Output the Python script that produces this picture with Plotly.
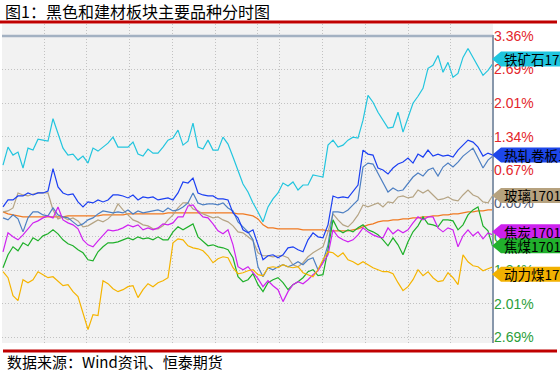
import plotly.graph_objects as go

# ---------------- data (percent change, intraday) ----------------
time_idx = list(range(99))

iron_ore = [0.77, 1.13, 0.97, 1.03, 0.71, 1.11, 1.07, 1.29, 1.27, 1.25, 1.70, 1.41, 1.11, 0.97, 0.99, 0.87, 0.95, 0.81, 1.11, 1.05,
            1.13, 1.21, 1.33, 1.13, 1.13, 1.13, 1.23, 0.99, 0.95, 1.09, 1.01, 1.01, 1.13, 1.27, 1.31, 1.47, 1.17, 1.25, 1.61, 1.13,
            1.09, 1.27, 1.07, 1.07, 1.33, 1.19, 0.93, 0.67, 0.39, 0.23, 0.01, -0.17, -0.37, -0.07, 0.09, 0.21, 0.41, 0.35, 0.43, 0.27,
            0.37, 0.37, 0.57, 0.55, 0.53, 1.17, 1.27, 1.13, 1.17, 1.27, 1.33, 1.31, 1.67, 2.17, 2.03, 1.83, 1.67, 1.51, 1.53, 1.83,
            1.43, 1.71, 2.01, 2.15, 2.31, 2.71, 2.77, 2.97, 2.63, 2.83, 2.53, 2.61, 2.93, 3.11, 2.93, 2.77, 2.57, 2.67, 2.81]

hot_coil = [-0.07, 0.07, 0.07, 0.15, 0.15, 0.21, 0.17, 0.21, 0.21, 0.25, 0.70, 0.33, 0.21, 0.17, 0.19, 0.03, -0.07, 0.03, 0.01, 0.07,
            0.03, 0.07, 0.17, 0.17, 0.15, 0.11, 0.17, 0.07, 0.13, 0.11, 0.13, 0.07, 0.09, 0.11, 0.07, 0.21, 0.43, 0.41, 0.51, 0.21,
            0.17, 0.15, 0.15, 0.09, 0.09, 0.07, -0.19, -0.29, -0.53, -0.59, -0.53, -0.85, -1.13, -1.05, -1.03, -1.09, -1.03, -0.89, -0.87, -0.93,
            -0.97, -0.73, -0.59, -0.67, -0.69, -0.43, 0.15, 0.11, 0.13, 0.11, 0.23, 0.37, 1.07, 0.99, 0.97, 0.71, 0.67, 0.59, 0.71, 0.79,
            0.83, 0.91, 0.81, 0.99, 0.93, 1.07, 0.95, 0.99, 0.95, 0.97, 0.93, 1.07, 1.17, 1.27, 1.23, 1.13, 0.95, 1.01, 0.97]

rebar = [-0.29, -0.33, -0.23, -0.31, -0.57, -0.29, -0.17, -0.17, -0.23, -0.25, -0.09, -0.23, -0.27, -0.29, -0.37, -0.45, -0.41, -0.33, -0.29, -0.21,
         -0.15, -0.17, -0.19, -0.17, -0.19, -0.13, -0.21, -0.15, -0.19, -0.17, -0.15, -0.13, -0.17, -0.09, -0.15, -0.13, -0.07, 0.01, 0.21, 0.01,
         -0.03, -0.01, -0.01, -0.03, 0.01, -0.09, -0.15, -0.37, -0.47, -0.57, -0.73, -1.27, -1.47, -1.29, -1.33, -1.27, -1.23, -1.27, -1.23, -1.17,
         -1.23, -1.13, -1.09, -1.33, -1.17, -0.83, -0.17, -0.17, -0.19, -0.13, -0.03, 0.07, 0.73, 0.81, 0.79, 0.61, 0.41, 0.23, 0.31, 0.25,
         0.27, 0.41, 0.53, 0.61, 0.55, 0.67, 0.71, 0.55, 0.73, 0.81, 0.73, 0.83, 0.95, 1.03, 1.11, 0.91, 0.71, 0.87, 0.95]

glass = [-0.17, -0.15, -0.09, 0.21, 0.17, 0.15, 0.19, 0.21, 0.21, 0.21, -0.13, -0.31, -0.27, -0.33, -0.29, -0.35, -0.47, -0.45, -0.39, -0.33,
         -0.37, -0.31, -0.21, -0.01, -0.13, -0.23, -0.33, -0.37, -0.43, -0.45, -0.51, -0.51, -0.45, -0.33, -0.23, -0.09, 0.01, 0.01, -0.11, -0.15,
         -0.21, -0.25, -0.29, -0.27, -0.33, -0.37, -0.45, -0.57, -0.59, -0.67, -0.75, -0.99, -1.05, -1.05, -1.07, -1.05, -1.05, -1.09, -1.23, -1.27,
         -1.19, -1.07, -0.99, -0.93, -0.87, -0.57, -0.21, -0.33, -0.43, -0.47, -0.37, -0.23, -0.03, -0.07, -0.03, 0.01, -0.07, 0.03, 0.01, 0.13,
         0.15, 0.11, 0.13, 0.27, 0.21, 0.27, 0.17, 0.07, 0.09, 0.13, 0.07, 0.05, 0.17, 0.27, 0.17, 0.13, 0.03, 0.01, 0.17]

avg_line = [-0.17, -0.21, -0.23, -0.25, -0.27, -0.27, -0.27, -0.27, -0.27, -0.27, -0.27, -0.27, -0.27, -0.25, -0.25, -0.25, -0.25, -0.25, -0.25, -0.25,
            -0.23, -0.23, -0.23, -0.23, -0.23, -0.21, -0.21, -0.21, -0.21, -0.21, -0.21, -0.21, -0.21, -0.19, -0.19, -0.19, -0.19, -0.19, -0.19, -0.19,
            -0.19, -0.19, -0.19, -0.19, -0.19, -0.19, -0.19, -0.21, -0.21, -0.23, -0.25, -0.31, -0.43, -0.49, -0.49, -0.51, -0.51, -0.51, -0.51, -0.51,
            -0.53, -0.53, -0.53, -0.53, -0.53, -0.55, -0.55, -0.55, -0.55, -0.55, -0.53, -0.51, -0.47, -0.43, -0.41, -0.37, -0.35, -0.35, -0.33, -0.33,
            -0.31, -0.31, -0.29, -0.29, -0.27, -0.27, -0.25, -0.25, -0.23, -0.23, -0.21, -0.21, -0.19, -0.17, -0.17, -0.15, -0.15, -0.13, -0.13]

coke = [-0.97, -0.59, -0.67, -0.73, -0.63, -0.51, -0.39, -0.35, -0.29, -0.25, -0.29, -0.07, -0.33, -0.39, -0.43, -0.51, -0.73, -0.83, -0.87, -0.75,
        -0.63, -0.53, -0.55, -0.53, -0.49, -0.43, -0.47, -0.43, -0.53, -0.49, -0.53, -0.49, -0.41, -0.43, -0.39, -0.27, -0.27, -0.05, -0.03, -0.17,
        -0.27, -0.29, -0.41, -0.55, -0.61, -0.53, -0.83, -1.27, -1.33, -1.27, -1.39, -1.51, -1.67, -1.55, -1.65, -1.73, -1.97, -1.77, -1.63, -1.57,
        -1.61, -1.53, -1.43, -1.35, -1.19, -1.03, -0.53, -0.67, -0.73, -0.77, -0.73, -0.63, -0.49, -0.57, -0.63, -0.67, -0.69, -0.49, -0.61, -0.53,
        -0.59, -0.53, -0.39, -0.27, -0.33, -0.27, -0.27, -0.49, -0.57, -0.49, -0.53, -0.87, -0.65, -0.53, -0.65, -0.57, -0.71, -0.59, -0.63]

coking_coal = [-1.29, -1.03, -0.87, -0.95, -0.79, -0.85, -0.69, -0.75, -0.65, -0.61, -0.53, -0.61, -0.73, -0.81, -0.85, -0.93, -0.99, -1.13, -1.15, -0.97,
               -0.87, -0.79, -0.79, -0.77, -0.73, -0.69, -0.73, -0.67, -0.71, -0.69, -0.73, -0.67, -0.73, -0.73, -0.57, -0.47, -0.53, -0.47, -0.41, -0.67,
               -0.77, -0.85, -0.83, -0.87, -0.89, -0.93, -1.09, -1.47, -1.57, -1.53, -1.41, -1.63, -1.77, -1.59, -1.53, -1.49, -1.59, -1.73, -1.63, -1.57,
               -1.49, -1.37, -1.33, -1.45, -1.43, -0.93, -0.33, -0.53, -0.59, -0.53, -0.57, -0.49, -0.43, -0.53, -0.57, -0.63, -0.73, -0.85, -0.69, -0.83,
               -1.03, -0.77, -0.57, -0.45, -0.27, -0.41, -0.43, -0.47, -0.33, -0.33, -0.35, -0.53, -0.43, -0.23, -0.13, -0.07, -0.45, -0.55, -0.89]

thermal_coal = [-1.37, -1.49, -1.85, -1.95, -1.53, -1.59, -1.53, -1.37, -1.43, -1.49, -1.47, -1.57, -1.65, -1.63, -1.77, -1.87, -2.19, -2.53, -2.23, -2.25,
                -1.55, -1.61, -1.71, -1.77, -1.73, -1.67, -1.65, -1.89, -1.73, -1.61, -1.67, -1.59, -1.55, -1.49, -0.79, -0.71, -0.73, -0.85, -0.89, -0.91,
                -0.95, -1.05, -1.19, -1.11, -1.07, -1.09, -1.29, -1.41, -1.39, -1.35, -1.33, -1.43, -1.45, -1.29, -1.27, -1.29, -1.23, -1.27, -1.29, -1.27,
                -1.39, -1.43, -1.47, -1.33, -1.13, -0.97, -0.99, -1.07, -0.99, -1.13, -1.17, -1.23, -1.17, -1.23, -1.29, -1.33, -1.37, -1.37, -1.41, -1.59,
                -1.75, -1.67, -1.53, -1.33, -1.45, -1.37, -1.49, -1.57, -1.55, -1.39, -1.49, -1.63, -1.03, -1.17, -1.25, -1.27, -1.35, -1.31, -1.27]

y_tick_values = [3.36, 2.69, 2.01, 1.34, 0.67, 0.00, -0.67, -1.34, -2.01, -2.69]

tag_names = ["铁矿石1701", "热轧卷板1701", "玻璃1701", "焦炭1701", "焦煤1701", "动力煤1701"]
tag_levels = [2.90, 0.97, 0.16, -0.57, -0.85, -1.42]

title_text = "图1：黑色和建材板块主要品种分时图"
source_text = "数据来源：Wind资讯、恒泰期货"

# ---------------- layout geometry (pixels) ----------------
W, H = 560, 371
PL, PR, PT, PB = 2, 493, 24, 343
Y_MIN, Y_MAX = -2.80, 3.60
PX_PER_UNIT = (PB - PT) / (Y_MAX - Y_MIN)


def paper_x(px):
    return (px - PL) / (PR - PL)


def paper_y(py):
    return (PB - py) / (PB - PT)


# x positions of the time grid (index units: px = 3 + 5*i)
grid_px = [44, 86, 129, 172, 215, 257, 279, 322, 365, 408, 450]
grid_x = [(p - 3) / 5 for p in grid_px]

CJK = "Noto Sans CJK SC"

series = [
    (avg_line, "#f07a22"),
    (glass, "#b5a484"),
    (rebar, "#4d7fc2"),
    (hot_coil, "#1b3ff2"),
    (coking_coal, "#1fb02a"),
    (coke, "#cf22f0"),
    (thermal_coal, "#f5b400"),
    (iron_ore, "#22c5de"),
]

fig = go.Figure()
for vals, col in series:
    fig.add_trace(go.Scatter(x=time_idx, y=vals, mode="lines",
                             line=dict(color=col, width=1.2), hoverinfo="skip",
                             showlegend=False))


def tick_label(v):
    if v > 0:
        c = "#e3262b"
    elif v < 0:
        c = "#2c9e3a"
    else:
        c = "#56617a"
    return '<span style="color:%s">%.2f%%</span>' % (c, abs(v))


fig.update_layout(
    width=W, height=H, autosize=False,
    margin=dict(l=PL, r=W - PR, t=PT, b=H - PB, pad=0),
    paper_bgcolor="white", plot_bgcolor="#f2f2f2",
    showlegend=False,
    xaxis=dict(range=[-0.2, 98], tickvals=grid_x, showticklabels=False, ticks="",
               showgrid=True, gridcolor="#c2c2c2", griddash="1px,2px", gridwidth=1,
               zeroline=False, showline=False, fixedrange=True),
    yaxis=dict(range=[Y_MIN, Y_MAX], side="right", tickvals=y_tick_values,
               ticktext=[tick_label(v) for v in y_tick_values], ticks="",
               tickfont=dict(family="Liberation Sans, Arial", size=14),
               showgrid=True, gridcolor="#c2c2c2", griddash="1px,2px", gridwidth=1,
               zeroline=False, showline=False, fixedrange=True),
)

shapes = []
# header bar along the top level and right frame line
shapes.append(dict(type="line", xref="paper", yref="y", x0=0, x1=1, y0=3.36, y1=3.36,
                   line=dict(color="#a3b1c2", width=2.5), layer="above"))
shapes.append(dict(type="line", xref="paper", yref="paper", x0=paper_x(493), x1=paper_x(493),
                   y0=0, y1=paper_y(35), line=dict(color="#8797ab", width=2), layer="above"))
# red rules
shapes.append(dict(type="line", xref="paper", yref="paper", x0=paper_x(0), x1=paper_x(557),
                   y0=paper_y(22), y1=paper_y(22), line=dict(color="#c00000", width=3)))
shapes.append(dict(type="line", xref="paper", yref="paper", x0=paper_x(3), x1=paper_x(557),
                   y0=paper_y(351), y1=paper_y(351), line=dict(color="#c00000", width=3)))

tag_colors = ["#1fc6df", "#1d47ea", "#b6a27f", "#cd22ee", "#21b12c", "#f2b100"]
half = 7.5 / PX_PER_UNIT
tip_x, box_x, end_x = paper_x(492), paper_x(501), paper_x(620)
annotations = []
for name, lvl, col in zip(tag_names, tag_levels, tag_colors):
    path = "M %f,%f L %f,%f L %f,%f L %f,%f L %f,%f Z" % (
        tip_x, lvl, box_x, lvl + half, end_x, lvl + half, end_x, lvl - half, box_x, lvl - half)
    shapes.append(dict(type="path", xref="paper", yref="y", path=path,
                       fillcolor=col, line=dict(width=0), layer="above"))
    annotations.append(dict(xref="paper", yref="y", x=paper_x(502), y=lvl, text=name,
                            showarrow=False, xanchor="left", yanchor="middle",
                            font=dict(family=CJK, size=13.5, color="#000000")))

annotations.append(dict(xref="paper", yref="paper", x=paper_x(3), y=paper_y(11), text=title_text,
                        showarrow=False, xanchor="left", yanchor="middle",
                        font=dict(family=CJK, size=16, color="#000000")))
annotations.append(dict(xref="paper", yref="paper", x=paper_x(5), y=paper_y(361), text=source_text,
                        showarrow=False, xanchor="left", yanchor="middle",
                        font=dict(family=CJK, size=15, color="#000000")))

fig.update_layout(shapes=shapes, annotations=annotations)
fig.write_html("out.html", config={"displayModeBar": False},
               post_script="document.body.style.margin='0';document.body.style.overflow='hidden';")
